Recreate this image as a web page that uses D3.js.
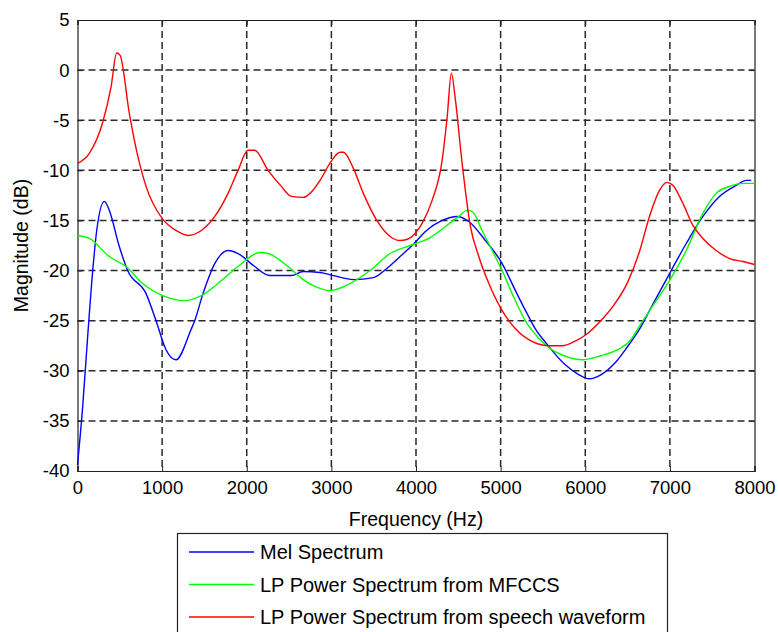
<!DOCTYPE html>
<html>
<head>
<meta charset="utf-8">
<script src="https://cdn.jsdelivr.net/npm/d3@7"></script>
<style>
  body { margin: 0; background: #fff; }
  text { font-family: "Liberation Sans", Arial, sans-serif; }
</style>
</head>
<body>
<svg id="chart" width="778" height="632"></svg>
<script>
// values (Hz, dB)
const melHz = [0, 61, 120, 180, 227, 317, 376, 494, 593, 810, 928, 1046, 1164, 1341, 1385, 1483, 1622, 1779, 1897, 2094, 2272, 2527, 2666, 2866, 3024, 3260, 3497, 3655, 3812, 3989, 4111, 4309, 4486, 4624, 4820, 5018, 5175, 5313, 5416, 5553, 5751, 5908, 6046, 6184, 6342, 6499, 6637, 6759, 6996, 7193, 7390, 7586, 7784, 7902, 7961]
const melDb = [-39.4, -33.6, -26.6, -20, -16, -13.1, -14, -17.6, -20, -22.3, -25, -27.9, -28.9, -25.9, -25, -22.3, -19.3, -18, -18.3, -19.6, -20.5, -20.5, -20.1, -20.2, -20.5, -20.9, -20.7, -19.8, -18.6, -17.2, -16.1, -15, -14.6, -15.1, -17, -19.3, -22, -24.3, -25.9, -27.4, -29.3, -30.3, -30.8, -30.4, -29.3, -27.6, -25.9, -24, -20.3, -17.3, -14.6, -12.6, -11.5, -11, -11]

const mfccHz = [0, 140, 376, 573, 770, 1007, 1262, 1463, 1700, 1897, 2154, 2252, 2488, 2666, 2787, 2985, 3221, 3457, 3694, 3930, 4151, 4348, 4506, 4604, 4663, 4781, 4900, 5018, 5136, 5313, 5435, 5573, 5751, 5967, 6184, 6381, 6539, 6637, 6799, 6996, 7193, 7390, 7547, 7705, 7863, 8000]
const mfccDb = [-16.5, -16.8, -18.6, -19.6, -21.3, -22.5, -23, -22.5, -21, -19.6, -18.2, -18.3, -19.6, -20.9, -21.5, -22, -21.3, -20, -18.3, -17.5, -16.8, -15.6, -14.6, -14, -14.1, -16, -18, -20, -22.3, -25.3, -26.6, -27.7, -28.5, -28.9, -28.5, -27.9, -26.9, -25.6, -23.5, -21, -18, -14.3, -12.3, -11.6, -11.3, -11.3]

const lpHz = [0, 140, 298, 396, 463, 502, 612, 672, 810, 1000, 1164, 1306, 1463, 1622, 1779, 1897, 2015, 2094, 2252, 2409, 2527, 2666, 2748, 2866, 3005, 3103, 3142, 3260, 3378, 3537, 3694, 3812, 3891, 3989, 4072, 4190, 4309, 4368, 4418, 4466, 4545, 4643, 4742, 4861, 5018, 5175, 5313, 5435, 5573, 5731, 5869, 6007, 6184, 6342, 6499, 6637, 6759, 6877, 6965, 7035, 7154, 7272, 7390, 7547, 7705, 7863, 8000]
const lpDb = [-9.3, -8.3, -5.2, -1.7, 1.7, 1.5, -4.3, -7, -11.6, -14.8, -16, -16.5, -16, -14.6, -12.3, -10, -8, -8, -10, -11.6, -12.6, -12.7, -12.3, -11, -9, -8.2, -8.2, -9.8, -12.3, -15, -16.6, -17, -16.9, -16.3, -15.3, -13, -9, -4.7, -0.3, -3, -9.3, -15.6, -18.6, -21.3, -24, -25.8, -26.8, -27.3, -27.5, -27.5, -27.1, -26.4, -25, -23.4, -21.2, -18.2, -14.6, -12, -11.2, -11.5, -13.3, -15.5, -16.8, -18, -18.8, -19.1, -19.4]

const xTicks = [0, 1000, 2000, 3000, 4000, 5000, 6000, 7000, 8000]
const yTicks = [5, 0, -5, -10, -15, -20, -25, -30, -35, -40]
const seriesNames = ['Mel Spectrum', 'LP Power Spectrum from MFCCS', 'LP Power Spectrum from speech waveform']
const seriesColors = ['#0000ff', '#00ff00', '#ff0000']

const svg = d3.select('#chart')
const margin = { left: 77.5, right: 23.5, top: 20, bottom: 161 }
const W = 778, H = 632
const x = d3.scaleLinear().domain([0, 8000]).range([margin.left, W - margin.right])
const y = d3.scaleLinear().domain([-40, 5]).range([H - margin.bottom, margin.top])

const plot = svg.append('g')

// grid
plot.selectAll('.vgrid')
  .data(xTicks.slice(1, -1))
  .join('line')
  .attr('x1', d => x(d)).attr('x2', d => x(d))
  .attr('y1', y(5)).attr('y2', y(-40))
  .attr('stroke', '#2a2a2a').attr('stroke-width', 1.5).attr('stroke-dasharray', '7,4')
plot.selectAll('.hgrid')
  .data(yTicks.slice(1, -1))
  .join('line')
  .attr('x1', x(0)).attr('x2', x(8000))
  .attr('y1', d => y(d)).attr('y2', d => y(d))
  .attr('stroke', '#2a2a2a').attr('stroke-width', 1.5).attr('stroke-dasharray', '7,4')

// axes with inward ticks, plain hyphen for negatives
const fmt = d => String(d)
const xAxis = d3.axisBottom(x).tickValues(xTicks).tickSize(-5).tickPadding(10).tickFormat(fmt)
const yAxis = d3.axisLeft(y).tickValues(yTicks).tickSize(-5).tickPadding(8).tickFormat(fmt)
const gx = svg.append('g').attr('transform', `translate(0,${y(-40)})`).call(xAxis)
const gy = svg.append('g').attr('transform', `translate(${x(0)},0)`).call(yAxis)
svg.append('g').attr('transform', `translate(0,${y(5)})`).call(d3.axisTop(x).tickValues(xTicks).tickSize(-5).tickFormat(''))
svg.append('g').attr('transform', `translate(${x(8000)},0)`).call(d3.axisRight(y).tickValues(yTicks).tickSize(-5).tickFormat(''))
svg.selectAll('.domain').attr('stroke', '#222').attr('stroke-width', 1.2)
svg.selectAll('.tick line').attr('stroke', '#222')
;[gx, gy].forEach(g => g.selectAll('.tick text').attr('font-size', 18.5).attr('fill', '#000')
  .style('font-family', '"Liberation Sans", Arial, sans-serif'))

// curves
const line = d3.line().x(d => x(d[0])).y(d => y(d[1])).curve(d3.curveMonotoneX)
const series = [
  d3.zip(melHz, melDb),
  d3.zip(mfccHz, mfccDb),
  d3.zip(lpHz, lpDb)
]
svg.selectAll('.curve')
  .data(series)
  .join('path')
  .attr('class', 'curve')
  .attr('d', line)
  .attr('fill', 'none')
  .attr('stroke', (_, i) => seriesColors[i])
  .attr('stroke-width', 1.4)

// axis labels
svg.append('text')
  .attr('x', (x(0) + x(8000)) / 2).attr('y', 526)
  .attr('text-anchor', 'middle').attr('font-size', 19.5)
  .text('Frequency (Hz)')
svg.append('text')
  .attr('transform', `translate(28,${(y(5) + y(-40)) / 2}) rotate(-90)`)
  .attr('text-anchor', 'middle').attr('font-size', 19.5)
  .text('Magnitude (dB)')

// legend
const legend = svg.append('g')
legend.append('rect')
  .attr('x', 177.5).attr('y', 533.5).attr('width', 490).attr('height', 110)
  .attr('fill', '#fff').attr('stroke', '#222').attr('stroke-width', 1.2)
const rows = legend.selectAll('.row')
  .data(seriesNames)
  .join('g')
  .attr('transform', (_, i) => `translate(0,${552 + i * 32.5})`)
rows.append('line')
  .attr('x1', 189).attr('x2', 254)
  .attr('stroke', (_, i) => seriesColors[i]).attr('stroke-width', 1.4)
rows.append('text')
  .attr('x', 260).attr('dy', '0.35em').attr('font-size', 20)
  .text(d => d)
</script>
</body>
</html>
